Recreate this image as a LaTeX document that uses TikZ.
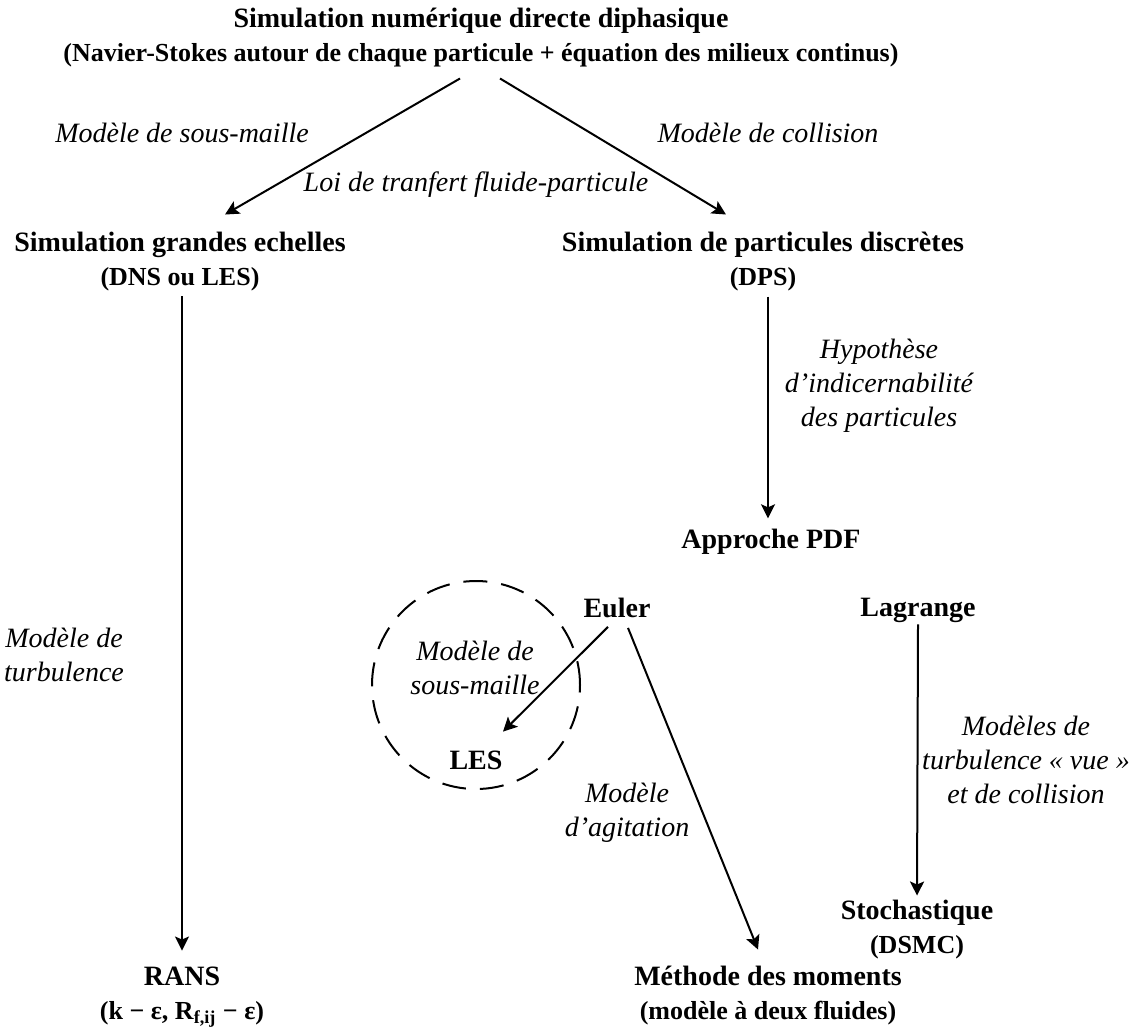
\documentclass[tikz,border=0pt]{standalone}
\usepackage{fontspec}
\setmainfont{Liberation Serif}
\usetikzlibrary{arrows.meta}
\newcommand\subline[1]{{\fontsize{13pt}{16pt}\selectfont #1}}
\begin{document}
\begin{tikzpicture}[x=0.5pt,y=-0.5pt]
	\fontsize{14pt}{17pt}\selectfont
	\tikzset{
		method/.style={font=\bfseries, align=center, inner sep=0pt, outer sep=0pt},
		hyp/.style={font=\itshape, align=center, inner sep=0pt, outer sep=0pt},
		arr/.style={line width=1pt, -{Stealth[length=7pt,width=7pt,inset=1.5pt]}},
		zone/.style={draw, circle, line width=1pt, dash pattern=on 12pt off 7pt, minimum size=104pt, inner sep=0pt},
	}
	\useasboundingbox (0,0) rectangle (1138,1028);
	
	% Place the methods first.
	\node[method] (dnsd) at (481,38) {Simulation numérique directe diphasique\\\subline{(Navier-Stokes autour de chaque particule + équation des milieux continus)}};
	\node[method] (sge) at (180,262) {Simulation grandes echelles\\\subline{(DNS ou LES)}};
	\node[method] (dps) at (763,262) {Simulation de particules discrètes\\\subline{(DPS)}};
	\node[method] (pdf) at (771,542) {Approche PDF};
	\node[method] (euler) at (617,608) {Euler};
	\node[method] (lagr) at (918,610) {Lagrange};
	\node[method] (les) at (476,760) {LES};
	\node[method] (rans) at (182,997) {RANS\\\subline{(k − ε, R\textsubscript{f,ij} − ε)}};
	\node[method] (mom) at (768,996) {Méthode des moments\\\subline{(modèle à deux fluides)}};
	\node[method] (stoch) at (917,930) {Stochastique\\\subline{(DSMC)}};
	
	% The dashed ring round the sub-grid model.
	\node[zone] (ring) at (476,685) {};
	
	% Then the hypotheses, in italics.
	\node[hyp] (hssm) at (182,133) {Modèle de sous-maille};
	\node[hyp] (hcoll) at (768,133) {Modèle de collision};
	\node[hyp] (hloi) at (476,185) {Loi de tranfert fluide-particule};
	\node[hyp] (hturb) at (64,655) {Modèle de\\turbulence};
	\node[hyp] (hind) at (879,386) {Hypothèse\\d’indicernabilité\\des particules};
	\node[hyp] (hssm2) at (475,668) {Modèle de\\sous-maille};
	\node[hyp] (hagit) at (627,813) {Modèle\\d’agitation};
	\node[hyp] (hvue) at (1026,760) {Modèles de\\turbulence « vue »\\et de collision};
	
	% Draw the arrows last.
	\draw[arr] ([xshift=-10.5pt,yshift=-5.5pt]dnsd.south) -- ([xshift=22.5pt,yshift=9pt]sge.north);
	\draw[arr] ([xshift=9.5pt,yshift=-5.5pt]dnsd.south) -- ([xshift=-18.5pt,yshift=9pt]dps.north);
	\draw[arr] ([xshift=1pt,yshift=-2.5pt]sge.south) -- ([yshift=8pt]rans.north);
	\draw[arr] ([xshift=2.5pt,yshift=-2.5pt]dps.south) -- ([xshift=-1.5pt,yshift=5.5pt]pdf.north);
	\draw[arr] ([xshift=-4.5pt,yshift=-4.5pt]euler.south) -- ([xshift=13.5pt,yshift=9.5pt]les.north);
	\draw[arr] ([xshift=5.5pt,yshift=-5pt]euler.south) -- ([xshift=-5pt,yshift=8.5pt]mom.north);
	\draw[arr] ([yshift=-1pt]lagr.south) -- ([yshift=2.5pt]stoch.north);
\end{tikzpicture}
\end{document}
